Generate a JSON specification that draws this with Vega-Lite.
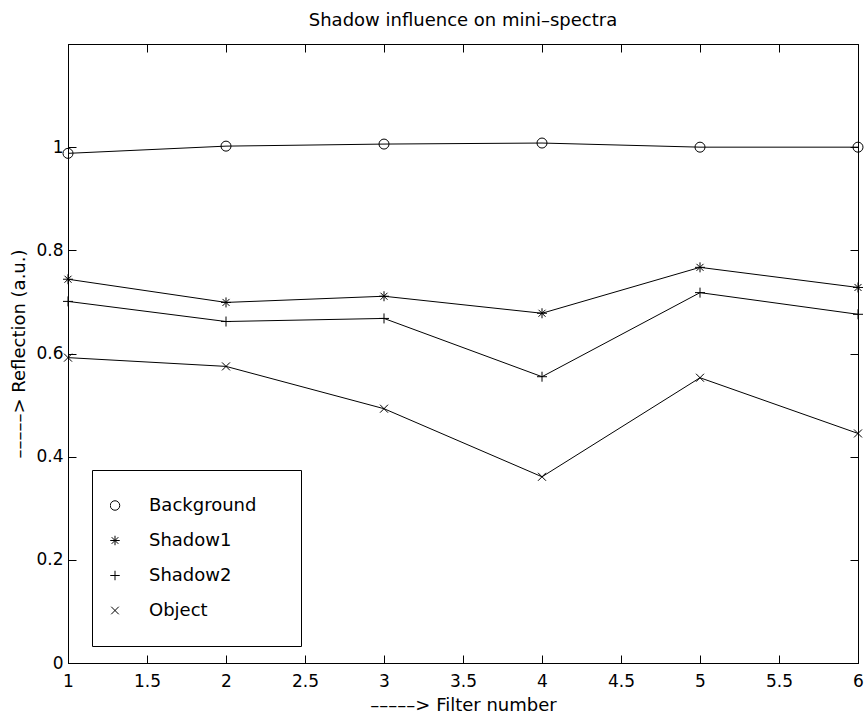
{
  "$schema": "https://vega.github.io/schema/vega-lite/v6.json",
  "width": 790,
  "height": 619,
  "autosize": {"type": "none"},
  "padding": {"left": 68, "top": 44, "right": 6, "bottom": 50},
  "background": "white",
  "title": {
    "text": "Shadow influence on mini–spectra",
    "font": "DejaVu Sans",
    "fontSize": 18,
    "fontWeight": "normal",
    "color": "black",
    "anchor": "middle",
    "frame": "group",
    "baseline": "alphabetic",
    "offset": 16,
    "dy": 16
  },
  "config": {
    "view": {"stroke": "black", "strokeWidth": 1},
    "axis": {
      "grid": false,
      "domainColor": "black",
      "tickColor": "black",
      "labelColor": "black",
      "titleColor": "black",
      "labelFont": "DejaVu Sans",
      "titleFont": "DejaVu Sans",
      "labelFontSize": 17,
      "titleFontSize": 18,
      "titleFontWeight": "normal",
      "tickSize": -8,
      "tickWidth": 1,
      "domainWidth": 1
    },
    "legend": {
      "labelFont": "DejaVu Sans",
      "labelFontSize": 18,
      "labelColor": "black"
    }
  },
  "data": {
    "values": [
      {"filter": 1, "reflection": 0.988, "series": "Background"},
      {"filter": 2, "reflection": 1.002, "series": "Background"},
      {"filter": 3, "reflection": 1.006, "series": "Background"},
      {"filter": 4, "reflection": 1.008, "series": "Background"},
      {"filter": 5, "reflection": 1.0, "series": "Background"},
      {"filter": 6, "reflection": 1.0, "series": "Background"},
      {"filter": 1, "reflection": 0.744, "series": "Shadow1"},
      {"filter": 2, "reflection": 0.699, "series": "Shadow1"},
      {"filter": 3, "reflection": 0.711, "series": "Shadow1"},
      {"filter": 4, "reflection": 0.678, "series": "Shadow1"},
      {"filter": 5, "reflection": 0.767, "series": "Shadow1"},
      {"filter": 6, "reflection": 0.728, "series": "Shadow1"},
      {"filter": 1, "reflection": 0.701, "series": "Shadow2"},
      {"filter": 2, "reflection": 0.662, "series": "Shadow2"},
      {"filter": 3, "reflection": 0.668, "series": "Shadow2"},
      {"filter": 4, "reflection": 0.555, "series": "Shadow2"},
      {"filter": 5, "reflection": 0.718, "series": "Shadow2"},
      {"filter": 6, "reflection": 0.676, "series": "Shadow2"},
      {"filter": 1, "reflection": 0.592, "series": "Object"},
      {"filter": 2, "reflection": 0.575, "series": "Object"},
      {"filter": 3, "reflection": 0.493, "series": "Object"},
      {"filter": 4, "reflection": 0.361, "series": "Object"},
      {"filter": 5, "reflection": 0.553, "series": "Object"},
      {"filter": 6, "reflection": 0.445, "series": "Object"}
    ]
  },
  "layer": [
    {
      "mark": {"type": "line", "color": "black", "strokeWidth": 1},
      "encoding": {
        "x": {
          "field": "filter",
          "type": "quantitative",
          "scale": {"domain": [1, 6], "nice": false, "zero": false},
          "axis": {
            "orient": "bottom",
            "values": [1, 1.5, 2, 2.5, 3, 3.5, 4, 4.5, 5, 5.5, 6],
            "format": "~g",
            "labelPadding": 18,
            "labelFlush": false,
            "title": "–––––> Filter number",
            "titlePadding": 7
          }
        },
        "y": {
          "field": "reflection",
          "type": "quantitative",
          "scale": {"domain": [0, 1.2], "nice": false},
          "axis": {
            "orient": "left",
            "values": [0, 0.2, 0.4, 0.6, 0.8, 1],
            "format": "~g",
            "labelPadding": 13,
            "labelFlush": false,
            "title": "–––––> Reflection (a.u.)",
            "titlePadding": 7
          }
        },
        "detail": {"field": "series"}
      }
    },
    {
      "mark": {"type": "point", "filled": false, "stroke": "black", "strokeWidth": 1, "size": 100, "opacity": 1},
      "encoding": {
        "x": {
          "field": "filter",
          "type": "quantitative",
          "axis": {
            "orient": "top",
            "values": [1, 1.5, 2, 2.5, 3, 3.5, 4, 4.5, 5, 5.5, 6],
            "labels": false,
            "title": null
          }
        },
        "y": {
          "field": "reflection",
          "type": "quantitative",
          "axis": {
            "orient": "right",
            "values": [0, 0.2, 0.4, 0.6, 0.8, 1],
            "labels": false,
            "title": null
          }
        },
        "shape": {
          "field": "series",
          "type": "nominal",
          "scale": {
            "domain": ["Background", "Shadow1", "Shadow2", "Object"],
            "range": [
              "circle",
              "M-1,0L1,0M0,-1L0,1M-0.7,-0.7L0.7,0.7M0.7,-0.7L-0.7,0.7",
              "M-1,0L1,0M0,-1L0,1",
              "M-0.8,-0.8L0.8,0.8M0.8,-0.8L-0.8,0.8"
            ]
          },
          "legend": {
            "orient": "none",
            "legendX": 24,
            "legendY": 426,
            "title": null,
            "padding": 18,
            "strokeColor": "black",
            "fillColor": "white",
            "clipHeight": 35,
            "rowPadding": 0,
            "symbolSize": 90,
            "symbolOffset": -4,
            "symbolStrokeColor": "black",
            "symbolFillColor": "transparent",
            "symbolStrokeWidth": 1,
            "labelOffset": 25,
            "labelExpr": "datum.label + '\u2800\u2800'"
          }
        }
      }
    }
  ],
  "resolve": {"axis": {"x": "independent", "y": "independent"}}
}
